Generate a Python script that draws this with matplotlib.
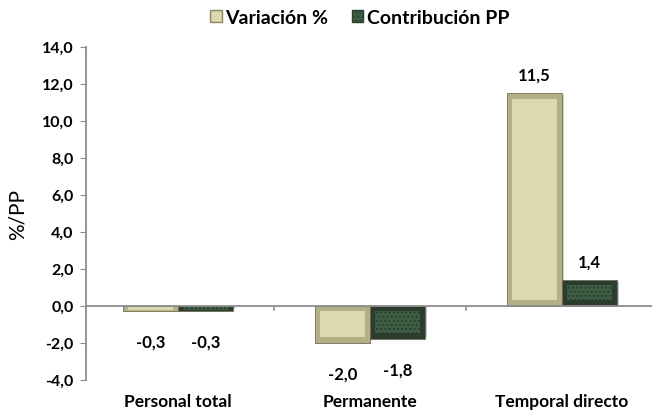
import numpy as np
import matplotlib
matplotlib.use("Agg")
import matplotlib.pyplot as plt
import matplotlib.transforms as mtransforms
from matplotlib.patches import Patch

# datos del grafico
categorias = ["Personal total", "Permanente", "Temporal directo"]
variacion = [-0.3, -2.0, 11.5]
contribucion = [-0.3, -1.8, 1.4]
series = ["Variación %", "Contribución PP"]
yticks = [-4, -2, 0, 2, 4, 6, 8, 10, 12, 14]

plt.rcParams['font.family'] = ['Lato', 'DejaVu Sans']

fig = plt.figure(figsize=(6.52, 4.14), dpi=100)
ax = fig.add_axes([86/652, 33.3/414, (652-86)/652, (380.7-47.7)/414])

x = np.arange(len(categorias))
w = 0.286

def bevel_bars(xs, vals, outer, inner, shadow, hatch=None):
    vals = np.array(vals)
    # sombra
    ax.bar(xs + 0.012, vals - 0.12*np.sign(vals), w, color=shadow, alpha=0.35, zorder=1, lw=0)
    ax.bar(xs, vals, w, color=outer, edgecolor="#6f6e5a", lw=0.6, zorder=2)
    dy = np.minimum(0.3, np.abs(vals)*0.25) * np.sign(vals)
    ax.bar(xs, vals - 2*dy, w - 0.05, bottom=dy, color=inner, lw=0, zorder=3,
           hatch=hatch, edgecolor="#2b3f2e" if hatch else inner)

bevel_bars(x - w/2, variacion, "#b5af86", "#ddd8b0", "#777777")
bevel_bars(x + w/2, contribucion, "#2c3d2e", "#3f5f45", "#555555", hatch="....")

ax.axhline(0, color="#8c8c8c", lw=1.3, zorder=4)

ax.set_ylim(-4, 14)
ax.set_xlim(-0.479, 2.469)
ax.set_yticks(yticks)
ax.set_yticklabels([f"{t:.1f}".replace(".", ",") for t in yticks],
                   fontweight="bold", fontsize=11.5)
ax.tick_params(axis="y", length=4, color="#8c8c8c", pad=5)
ax.set_xticks([])
for s in ["top", "right", "bottom"]:
    ax.spines[s].set_visible(False)
ax.spines["left"].set_color("#8c8c8c")
ax.spines["left"].set_linewidth(1.3)

# marcas entre categorias sobre la linea de cero
for b in [0.5, 1.5]:
    ax.plot([b, b], [0, -0.25], color="#8c8c8c", lw=1.2, zorder=4)

ax.set_ylabel("%/PP", fontsize=15, labelpad=10)

trans = mtransforms.blended_transform_factory(ax.transData, ax.transAxes)
for i, c in enumerate(categorias):
    ax.text(i, -0.063, c, transform=trans, ha="center", va="center",
            fontweight="bold", fontsize=12.5)

# etiquetas de valores
for xs, vals in [(x - w/2, variacion), (x + w/2, contribucion)]:
    for xi, v in zip(xs, vals):
        lab = f"{v:.1f}".replace(".", ",")
        if v < 0:
            ax.text(xi, v - 1.65, lab, ha="center", va="center", fontweight="bold", fontsize=12)
        else:
            ax.text(xi, v + 1.0, lab, ha="center", va="center", fontweight="bold", fontsize=12)

handles = [Patch(facecolor="#ddd8b0", edgecolor="#8a8566"),
           Patch(facecolor="#3f5f45", edgecolor="#2b3f2e", hatch="....")]
fig.legend(handles, series, loc="center", bbox_to_anchor=(0.552, 0.955), ncol=2,
           frameon=False, prop={"weight": "bold", "size": 14},
           handlelength=0.6, handleheight=0.6, handletextpad=0.2, columnspacing=1.2)

fig.savefig("out.png", dpi=100)
